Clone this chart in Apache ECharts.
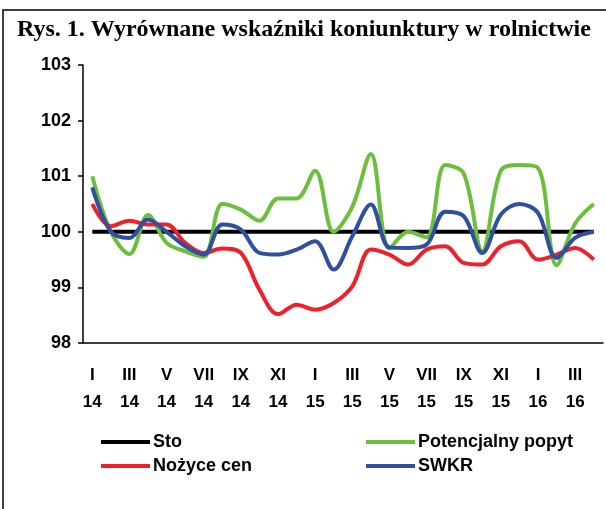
<!DOCTYPE html>
<html>
<head>
    <meta charset="utf-8">
    <title>Chart</title>
    <script src="https://cdn.jsdelivr.net/npm/echarts@6/dist/echarts.min.js"></script>
    <style>
        html, body { margin: 0; padding: 0; background: #fff; }
        #main { width: 606px; height: 509px; }
    </style>
</head>
<body>
    <div id="main"></div>
    <script type="text/javascript">
        // miesiace I 2014 - IV 2016
        var months = ['I\n14','II\n14','III\n14','IV\n14','V\n14','VI\n14','VII\n14','VIII\n14','IX\n14','X\n14','XI\n14','XII\n14',
                      'I\n15','II\n15','III\n15','IV\n15','V\n15','VI\n15','VII\n15','VIII\n15','IX\n15','X\n15','XI\n15','XII\n15',
                      'I\n16','II\n16','III\n16','IV\n16'];
        var sto = [100,100,100,100,100,100,100,100,100,100,100,100,100,100,100,100,100,100,100,100,100,100,100,100,100,100,100,100];
        var popyt = [101.0,100.0,99.6,100.3,99.8,99.65,99.55,100.5,100.4,100.2,100.6,100.6,
                     101.1,100.0,100.45,101.4,99.7,100.0,99.9,101.2,101.05,99.65,101.1,101.2,
                     101.15,99.4,100.15,100.5];
        var nozyce = [100.5,100.1,100.2,100.13,100.13,99.8,99.62,99.7,99.62,98.96,98.52,98.69,
                      98.6,98.72,99.02,99.68,99.59,99.41,99.68,99.74,99.44,99.41,99.74,99.83,
                      99.5,99.59,99.71,99.5];
        var swkr = [100.8,100.0,99.89,100.22,100.0,99.74,99.59,100.13,100.04,99.62,99.59,99.68,
                    99.83,99.32,99.92,100.49,99.72,99.71,99.77,100.36,100.28,99.62,100.31,100.5,
                    100.34,99.53,99.89,100.0];
        var yMin = 98, yMax = 103, yStep = 1;

        var myChart = echarts.init(document.getElementById('main'), null, {renderer: 'canvas'});

        var font = 'Liberation Sans, Arial';

        function line(name, data, color, z) {
            return {
                name: name,
                type: 'line',
                data: data,
                smooth: 0.35,
                symbol: 'none',
                z: z,
                lineStyle: {color: color, width: 4},
                itemStyle: {color: color}
            };
        }

        var legendBase = {
            orient: 'vertical',
            top: 428,
            itemWidth: 49,
            itemHeight: 14,
            itemGap: 6,
            textStyle: {fontFamily: font, fontWeight: 'bold', fontSize: 18, color: '#000', padding: [0, 0, 0, -2]},
            icon: 'path://M0,5L49,5L49,9L0,9Z'
        };

        var option = {
            animation: false,
            backgroundColor: '#fff',
            title: {
                text: 'Rys. 1. Wyrównane wskaźniki koniunktury w rolnictwie',
                left: 12,
                top: 13,
                textStyle: {fontFamily: 'Liberation Serif, Times New Roman', fontWeight: 'bold', fontSize: 24, color: '#000'}
            },
            graphic: [{
                type: 'rect',
                shape: {x: 3, y: 10, width: 700, height: 600},
                style: {fill: 'none', stroke: '#000', lineWidth: 1.5},
                silent: true
            }],
            legend: [
                Object.assign({data: ['Sto', 'Nożyce cen'], left: 96}, legendBase),
                Object.assign({data: ['Potencjalny popyt', 'SWKR'], left: 361}, legendBase)
            ],
            grid: {left: 83, right: 3, top: 65, bottom: 166, containLabel: false},
            xAxis: {
                type: 'category',
                data: months,
                boundaryGap: true,
                axisLine: {lineStyle: {color: '#000', width: 1.5}},
                axisTick: {interval: 3, length: 5, lineStyle: {color: '#000', width: 1.5}},
                axisLabel: {interval: 1, margin: 19, lineHeight: 27, fontFamily: font, fontWeight: 'bold', fontSize: 17, color: '#000'},
                splitLine: {show: false}
            },
            yAxis: {
                type: 'value',
                min: yMin,
                max: yMax,
                interval: yStep,
                axisLine: {show: true, lineStyle: {color: '#000', width: 1.5}},
                axisTick: {show: true, length: 5, lineStyle: {color: '#000', width: 1.5}},
                axisLabel: {margin: 12, fontFamily: font, fontWeight: 'bold', fontSize: 18, color: '#000'},
                splitLine: {show: false}
            },
            series: [
                line('Sto', sto, '#000000', 2),
                line('Potencjalny popyt', popyt, '#6cbf3c', 3),
                line('Nożyce cen', nozyce, '#f0202a', 4),
                line('SWKR', swkr, '#2f4fa0', 5)
            ]
        };
        myChart.setOption(option);
    </script>
</body>
</html>
